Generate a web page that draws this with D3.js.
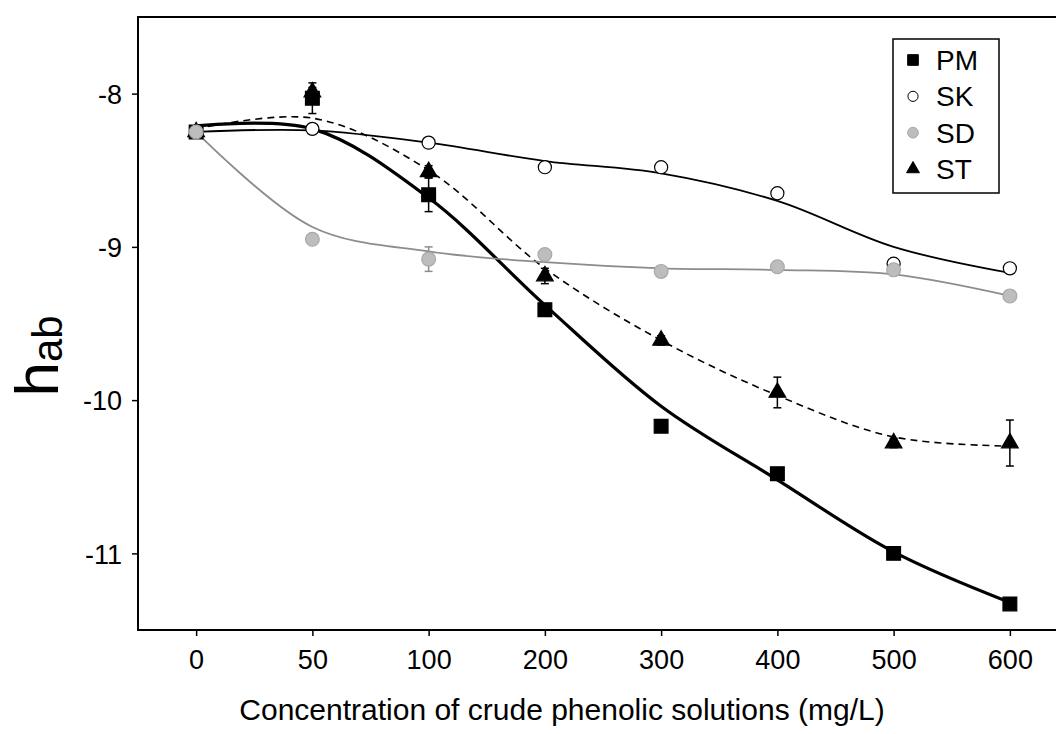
<!DOCTYPE html>
<html>
<head>
<meta charset="utf-8">
<script src="https://cdn.jsdelivr.net/npm/d3@7"></script>
<style>
  body { margin: 0; background: #fff; }
  svg { display: block; font-family: "Liberation Sans", Arial, sans-serif; }
</style>
</head>
<body>
<div id="d3-container"></div>
<script>
/**
 * CONSTANTS AND GLOBALS
 * */
const width = 1056,
  height = 734,
  margin = { top: 17, bottom: 104, left: 138, right: -12 };

// x categories (mg/L), evenly spaced in the figure
const concentrations = ["0", "50", "100", "200", "300", "400", "500", "600"];
const yTicks = [-8, -9, -10, -11];

// measured points
const pmValues = [-8.25, -8.03, -8.66, -9.41, -10.17, -10.48, -11.0, -11.33];
const skValues = [-8.25, -8.23, -8.32, -8.48, -8.48, -8.65, -9.11, -9.14];
const sdValues = [-8.25, -8.95, -9.08, -9.05, -9.16, -9.13, -9.15, -9.32];
const stValues = [-8.25, -7.99, -8.51, -9.19, -9.61, -9.95, -10.28, -10.28];

// error bars (+/-)
const pmErrors = [0, 0.1, 0.11, 0.02, 0, 0, 0, 0];
const skErrors = [0, 0, 0.03, 0, 0.02, 0.03, 0, 0.02];
const sdErrors = [0, 0, 0.08, 0, 0, 0, 0, 0];
const stErrors = [0, 0.03, 0.04, 0.05, 0.03, 0.1, 0.03, 0.15];

// smoothed fit curves read at each concentration
const pmFit = [-8.21, -8.23, -8.68, -9.38, -10.04, -10.52, -10.99, -11.32];
const skFit = [-8.25, -8.24, -8.32, -8.44, -8.52, -8.70, -9.0, -9.17];
const sdFit = [-8.25, -8.87, -9.03, -9.10, -9.14, -9.15, -9.18, -9.32];
const stFit = [-8.23, -8.16, -8.50, -9.14, -9.61, -9.97, -10.24, -10.30];

const seriesNames = ["PM", "SK", "SD", "ST"];

/**
 * INIT
 * */
const svg = d3.select("#d3-container")
  .append("svg")
  .attr("width", width)
  .attr("height", height);

const xScale = d3.scalePoint()
  .domain(concentrations)
  .range([margin.left, width - margin.right])
  .padding(0.5);

const yScale = d3.scaleLinear()
  .domain([-11.5, -7.5])
  .range([height - margin.bottom, margin.top]);

const series = [
  { name: "PM", values: pmValues, errors: pmErrors, fit: pmFit, symbol: d3.symbolSquare, size: 190, fill: "#000", stroke: "#000", line: "#000", lw: 3.2, dash: null, err: "#000" },
  { name: "ST", values: stValues, errors: stErrors, fit: stFit, symbol: d3.symbolTriangle, size: 120, fill: "#000", stroke: "#000", line: "#000", lw: 1.6, dash: "7,5", err: "#000" },
  { name: "SK", values: skValues, errors: skErrors, fit: skFit, symbol: d3.symbolCircle, size: 135, fill: "#fff", stroke: "#000", line: "#000", lw: 1.8, dash: null, err: "#000" },
  { name: "SD", values: sdValues, errors: sdErrors, fit: sdFit, symbol: d3.symbolCircle, size: 150, fill: "#bdbdbd", stroke: "#a8a8a8", line: "#8c8c8c", lw: 1.8, dash: null, err: "#8c8c8c" }
];

// axes (plain hyphen for the minus sign, as in the figure)
const xAxis = d3.axisBottom(xScale).tickSize(6).tickPadding(14);
const yAxis = d3.axisLeft(yScale).tickValues(yTicks).tickSize(6).tickPadding(10)
  .tickFormat(d => String(d));

const gx = svg.append("g")
  .attr("transform", `translate(0, ${height - margin.bottom})`)
  .call(xAxis);
const gy = svg.append("g")
  .attr("transform", `translate(${margin.left}, 0)`)
  .call(yAxis);

[gx, gy].forEach(g => {
  g.select(".domain").remove();
  g.selectAll(".tick line").attr("stroke", "#000").attr("stroke-width", 1.5);
  g.selectAll(".tick text")
    .attr("fill", "#000")
    .style("font-size", "27px")
    .style("font-family", "'Liberation Sans', Arial, sans-serif");
});
gy.selectAll(".tick text").attr("dy", "0.36em");

// frame
svg.append("rect")
  .attr("x", margin.left)
  .attr("y", margin.top)
  .attr("width", width - margin.right - margin.left)
  .attr("height", height - margin.bottom - margin.top)
  .attr("fill", "none")
  .attr("stroke", "#000")
  .attr("stroke-width", 2);

// axis titles
svg.append("text")
  .attr("x", 562)
  .attr("y", 720)
  .attr("text-anchor", "middle")
  .style("font-size", "30px")
  .text("Concentration of crude phenolic solutions (mg/L)");

const yLabel = svg.append("text")
  .attr("transform", `translate(58, 356) rotate(-90)`)
  .attr("text-anchor", "middle");
yLabel.append("tspan").style("font-size", "62px").text("h");
yLabel.append("tspan").style("font-size", "42px").attr("dy", 4).text("ab");

const line = d3.line()
  .x((d, i) => xScale(concentrations[i]))
  .y(d => yScale(d))
  .curve(d3.curveCatmullRom.alpha(0.5));

// fit curves
series.forEach(s => {
  svg.append("path")
    .datum(s.fit)
    .attr("fill", "none")
    .attr("stroke", s.line)
    .attr("stroke-width", s.lw)
    .attr("stroke-dasharray", s.dash)
    .attr("d", line);
});

// error bars + markers
series.forEach(s => {
  const g = svg.append("g");
  const pts = s.values.map((v, i) => ({ x: xScale(concentrations[i]), v, e: s.errors[i] }));

  const eb = g.selectAll(".err")
    .data(pts.filter(d => d.e > 0))
    .join("g")
    .attr("stroke", s.err)
    .attr("stroke-width", 1.5);
  eb.append("line")
    .attr("x1", d => d.x).attr("x2", d => d.x)
    .attr("y1", d => yScale(d.v - d.e)).attr("y2", d => yScale(d.v + d.e));
  eb.append("line")
    .attr("x1", d => d.x - 4).attr("x2", d => d.x + 4)
    .attr("y1", d => yScale(d.v - d.e)).attr("y2", d => yScale(d.v - d.e));
  eb.append("line")
    .attr("x1", d => d.x - 4).attr("x2", d => d.x + 4)
    .attr("y1", d => yScale(d.v + d.e)).attr("y2", d => yScale(d.v + d.e));

  g.selectAll(".pt")
    .data(pts)
    .join("path")
    .attr("transform", d => `translate(${d.x}, ${yScale(d.v)})`)
    .attr("d", d3.symbol(s.symbol, s.size))
    .attr("fill", s.fill)
    .attr("stroke", s.stroke)
    .attr("stroke-width", 1.2);
});

// legend
const legend = svg.append("g");
legend.append("rect")
  .attr("x", 893).attr("y", 39)
  .attr("width", 106).attr("height", 154)
  .attr("fill", "#fff")
  .attr("stroke", "#000")
  .attr("stroke-width", 1.5);

const legendRow = d3.scalePoint().domain(seriesNames).range([60, 169]);
seriesNames.forEach(name => {
  const s = series.find(d => d.name === name);
  const y = legendRow(name);
  legend.append("path")
    .attr("transform", `translate(913, ${y})`)
    .attr("d", d3.symbol(s.symbol, s.size * 0.6))
    .attr("fill", s.fill)
    .attr("stroke", s.stroke)
    .attr("stroke-width", 1);
  legend.append("text")
    .attr("x", 936)
    .attr("y", y + 10)
    .style("font-size", "28px")
    .text(name);
});
</script>
</body>
</html>
